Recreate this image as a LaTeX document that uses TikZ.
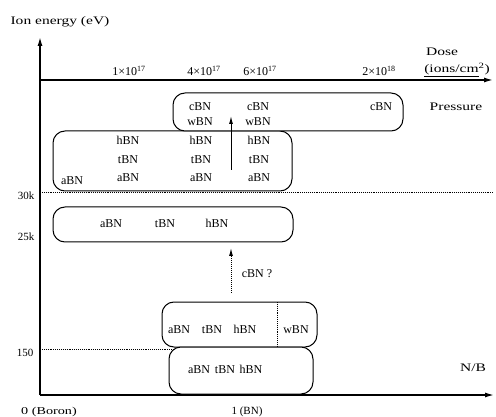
\documentclass[tikz,border=0pt]{standalone}
\usepackage{fontspec}
\setmainfont{Liberation Serif}
\newfontfamily\widefont[FakeStretch=1.35]{Liberation Serif}
\usetikzlibrary{arrows.meta}
\begin{document}
\begin{tikzpicture}[x=1pt,y=-1pt,
  lbl/.style={inner sep=0pt,text height=8pt,text depth=2pt,font=\fontsize{12}{13}\selectfont},
  wlbl/.style={inner sep=0pt,font=\fontsize{11.5}{13}\selectfont\widefont},
  tick/.style={inner sep=0pt,font=\fontsize{11}{12}\selectfont},
  dtick/.style={inner sep=0pt,font=\fontsize{12}{13}\selectfont},
  bnbox/.style={draw,line width=1pt,rounded corners=12pt,fill=white,inner sep=0pt},
  axis/.style={line width=1.4pt,-{Latex[length=9pt,width=5pt]}},
  dotline/.style={densely dotted,line width=0.9pt},
  arr/.style={line width=1pt,-{Latex[length=8pt,width=4pt]}}]
\useasboundingbox (0,0) rectangle (496,417);
% axes
\coordinate (O) at (40,395);
\coordinate (Ytop) at (40,37);
\coordinate (Xend) at (494,395);
\coordinate (D0) at (40,80);
\coordinate (Dend) at (493,80);
% dotted level lines
\coordinate (L30a) at (40,192);
\coordinate (L30b) at (494,192);
\coordinate (L150a) at (40,349);
\coordinate (L150b) at (175,349);
\draw[dotline] (L30a) -- (L30b);
\draw[dotline] (L150a) -- (L150b);
% boxes
\node[bnbox,minimum width=239pt,minimum height=60pt] (b2) at (172.5,161) {};
\node[bnbox,minimum width=230pt,minimum height=38pt] (b1) at (288,112) {};
\node[bnbox,minimum width=240pt,minimum height=35pt] (b3) at (173,224.5) {};
\node[bnbox,minimum width=155pt,minimum height=45pt] (b4) at (239.5,324.5) {};
\node[bnbox,minimum width=144pt,minimum height=47pt] (b5) at (241,370.5) {};
\draw[axis] (O) -- (Ytop);
\draw[axis] (O) -- (Xend);
\draw[axis] (D0) -- (Dend);
% axis labels
\node[wlbl] (ion) at (60,22) {Ion energy (eV)};
\node[dtick] (t1) at (129,71) {1×10\textsuperscript{17}};
\node[dtick] (t4) at (204,71) {4×10\textsuperscript{17}};
\node[dtick] (t6) at (260,71) {6×10\textsuperscript{17}};
\node[dtick] (t2) at (379,71) {2×10\textsuperscript{18}};
\node[wlbl] (dose) at (442,52) {Dose};
\node[wlbl] (units) at (457,70) {\underline{(ions/cm}\textsuperscript{2})};
\node[wlbl] (press) at (456,107) {Pressure};
\node[tick] (e30) at (26,196) {30k};
\node[tick] (e25) at (26,237) {25k};
\node[tick] (e150) at (25,353) {150};
\node[wlbl] (nb) at (473,368) {N/B};
\node[wlbl,font=\fontsize{10.5}{12}\selectfont\widefont] (boron) at (49,412) {0 (Boron)};
\node[tick] (bn) at (247,412) {1 (BN)};
% box 1
\node[lbl] (c1) at (200,108) {cBN};
\node[lbl] (c2) at (258,108) {cBN};
\node[lbl] (c3) at (381,108) {cBN};
\node[lbl] (w1) at (200,123) {wBN};
\node[lbl] (w2) at (258,123) {wBN};
% box 2
\node[lbl] (h1) at (128,142) {hBN};
\node[lbl] (h2) at (201,142) {hBN};
\node[lbl] (h3) at (259,142) {hBN};
\node[lbl] (tt1) at (128,161) {tBN};
\node[lbl] (tt2) at (201,161) {tBN};
\node[lbl] (tt3) at (259,161) {tBN};
\node[lbl] (a1) at (128,179) {aBN};
\node[lbl] (a2) at (201,179) {aBN};
\node[lbl] (a3) at (259,179) {aBN};
\node[lbl] (a0) at (72,182) {aBN};
% arrow in box 1/2
\coordinate (s1) at (231,170);
\coordinate (s2) at (231,116);
\draw[arr] (s1) -- (s2);
% box 3
\node[lbl] (a4) at (111,225) {aBN};
\node[lbl] (t5) at (165,225) {tBN};
\node[lbl] (h4) at (217,225) {hBN};
% dotted arrow
\coordinate (d1) at (231,293);
\coordinate (d2) at (231,248);
\draw[arr,densely dotted] (d1) -- (d2);
\node[lbl] (cq) at (257,275) {cBN ?};
% box 4
\node[lbl] (a5) at (179,331) {aBN};
\node[lbl] (t7) at (212,331) {tBN};
\node[lbl] (h5) at (245,331) {hBN};
\node[lbl] (w3) at (296,331) {wBN};
\coordinate (dv1) at (277,302);
\coordinate (dv2) at (277,347);
\draw[dotline] (dv1) -- (dv2);
% box 5
\node[lbl] (a6) at (199,370) {aBN};
\node[lbl] (t8) at (225,370) {tBN};
\node[lbl] (h6) at (251,370) {hBN};
\end{tikzpicture}
\end{document}
